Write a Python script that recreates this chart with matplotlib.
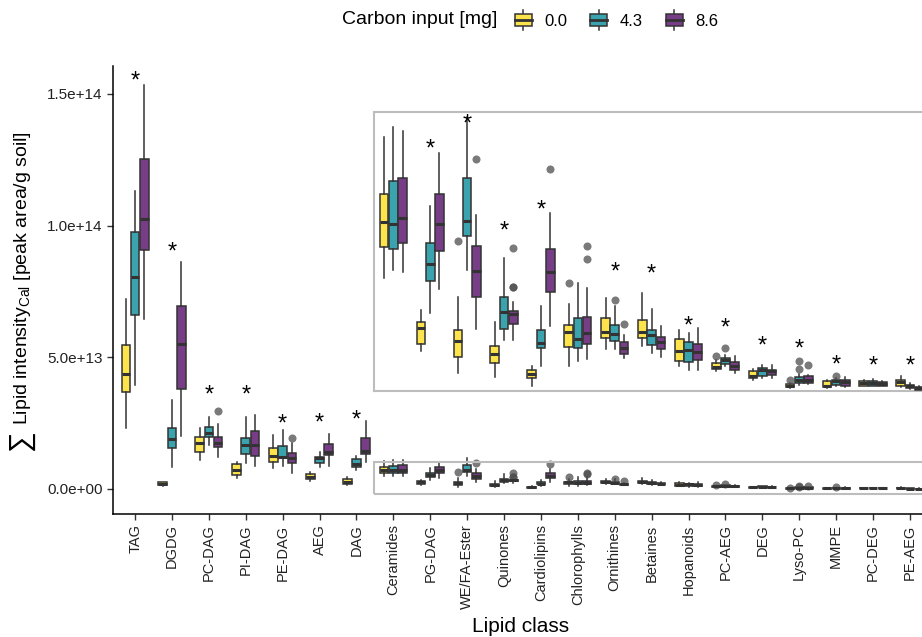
import matplotlib
matplotlib.use("Agg")
import matplotlib.pyplot as plt
from matplotlib.patches import Rectangle, Patch
from matplotlib.lines import Line2D
from matplotlib.legend_handler import HandlerBase

plt.rcParams['font.family'] = ['Liberation Sans', 'DejaVu Sans']
plt.rcParams['mathtext.fontset'] = 'custom'
plt.rcParams['mathtext.rm'] = 'Liberation Sans'
plt.rcParams['mathtext.it'] = 'Liberation Sans:italic'

SCALE = 1e13  # values below are in units of 1e13

classes = ["TAG", "DGDG", "PC-DAG", "PI-DAG", "PE-DAG", "AEG", "DAG", "Ceramides",
           "PG-DAG", "WE/FA-Ester", "Quinones", "Cardiolipins", "Chlorophylls",
           "Ornithines", "Betaines", "Hopanoids", "PC-AEG", "DEG", "Lyso-PC",
           "MMPE", "PC-DEG", "PE-AEG"]
groups = ["0.0", "4.3", "8.6"]
colors = ["#FDE44C", "#3AA3AE", "#773D86"]

# carbon 0.0
lo_0 = [2.31, 0.10, 1.10, 0.41, 0.79, 0.32, 0.15, 0.477, 0.169, 0.073, 0.058, 0.020, 0.103,
        0.178, 0.188, 0.103, 0.082, 0.047, 0.011, 0.011, 0.018, 0.016]
q1_0 = [3.67, 0.14, 1.42, 0.53, 1.02, 0.37, 0.19, 0.607, 0.197, 0.143, 0.116, 0.052, 0.186,
        0.224, 0.224, 0.127, 0.093, 0.054, 0.014, 0.016, 0.021, 0.021]
md_0 = [4.38, 0.19, 1.74, 0.72, 1.26, 0.46, 0.28, 0.716, 0.264, 0.211, 0.157, 0.069, 0.248,
        0.249, 0.248, 0.167, 0.099, 0.061, 0.021, 0.021, 0.033, 0.035]
q3_0 = [5.48, 0.25, 1.97, 0.95, 1.55, 0.56, 0.38, 0.833, 0.292, 0.258, 0.190, 0.086, 0.277,
        0.309, 0.301, 0.221, 0.118, 0.082, 0.028, 0.040, 0.040, 0.047]
hi_0 = [7.20, 0.28, 2.31, 1.04, 2.06, 0.66, 0.47, 1.074, 0.343, 0.398, 0.292, 0.105, 0.368,
        0.394, 0.412, 0.255, 0.132, 0.092, 0.033, 0.047, 0.047, 0.061]
# carbon 4.3
lo_1 = [3.96, 0.85, 1.68, 0.98, 0.88, 0.85, 0.72, 0.511, 0.327, 0.511, 0.215, 0.105, 0.127,
        0.178, 0.160, 0.089, 0.103, 0.054, 0.025, 0.021, 0.018, 0.008]
q1_1 = [6.59, 1.55, 1.97, 1.33, 1.17, 1.00, 0.85, 0.600, 0.466, 0.654, 0.263, 0.180, 0.181,
        0.209, 0.195, 0.122, 0.113, 0.064, 0.033, 0.025, 0.021, 0.011]
md_1 = [8.03, 1.89, 2.14, 1.68, 1.22, 1.19, 0.95, 0.706, 0.536, 0.717, 0.335, 0.204, 0.221,
        0.238, 0.235, 0.174, 0.129, 0.089, 0.047, 0.040, 0.033, 0.018]
q3_1 = [9.76, 2.33, 2.37, 1.93, 1.64, 1.23, 1.13, 0.886, 0.624, 0.900, 0.395, 0.258, 0.306,
        0.280, 0.259, 0.207, 0.139, 0.096, 0.058, 0.047, 0.042, 0.025]
hi_1 = [11.32, 3.36, 2.75, 2.73, 2.25, 1.42, 1.26, 1.116, 0.780, 1.159, 0.560, 0.357, 0.457,
        0.360, 0.347, 0.245, 0.150, 0.110, 0.072, 0.054, 0.050, 0.033]
# carbon 8.6
lo_2 = [6.46, 2.02, 1.23, 0.89, 0.62, 0.88, 1.04, 0.504, 0.430, 0.260, 0.215, 0.272, 0.135,
        0.139, 0.143, 0.089, 0.075, 0.056, 0.030, 0.016, 0.018, 0.003]
q1_2 = [9.07, 3.80, 1.59, 1.27, 0.98, 1.29, 1.32, 0.625, 0.590, 0.395, 0.284, 0.416, 0.198,
        0.157, 0.178, 0.132, 0.086, 0.065, 0.033, 0.018, 0.021, 0.004]
md_2 = [10.24, 5.52, 1.76, 1.68, 1.19, 1.42, 1.46, 0.730, 0.706, 0.508, 0.324, 0.501, 0.245,
        0.181, 0.207, 0.163, 0.103, 0.082, 0.047, 0.035, 0.030, 0.011]
q3_2 = [12.53, 6.94, 1.97, 2.22, 1.36, 1.71, 1.93, 0.900, 0.833, 0.614, 0.338, 0.600, 0.311,
        0.207, 0.228, 0.198, 0.120, 0.089, 0.061, 0.044, 0.035, 0.016]
hi_2 = [15.32, 8.62, 2.48, 2.79, 1.74, 2.08, 2.60, 1.098, 1.006, 0.744, 0.374, 0.753, 0.436,
        0.235, 0.276, 0.266, 0.146, 0.110, 0.068, 0.058, 0.040, 0.021]

# outliers: (class index, group index, value)
outliers = [(2, 2, 2.97), (4, 2, 1.95), (9, 0, 0.634), (9, 2, 0.979), (10, 2, 0.603),
            (10, 2, 0.440), (10, 2, 0.440), (11, 2, 0.937), (12, 0, 0.454), (12, 2, 0.611),
            (12, 2, 0.556), (13, 1, 0.383), (13, 2, 0.284), (16, 0, 0.149), (16, 1, 0.181),
            (18, 0, 0.047), (18, 1, 0.127), (18, 1, 0.092), (18, 2, 0.110), (19, 1, 0.064)]

# significance stars (height in 1e13), None = no star
stars = [15.73, 9.22, 3.81, 3.81, 2.70, 2.74, 2.86, None, 1.046, 1.152, 0.703, 0.791, None,
         0.528, 0.521, 0.301, 0.290, 0.214, 0.202, 0.135, 0.132, 0.132]

yticks = [0, 5e13, 1e14, 1.5e14]
ytick_labels = ["0.0e+00", "5.0e+13", "1.0e+14", "1.5e+14"]

N_MAIN = 7           # classes shown at full scale
ZOOM_X = (7.47, 22.6)
ZOOM_Y = (-0.20, 1.02)   # small rectangle in main axes
INSET_Y = (0.0, 1.18)    # y range shown inside inset
INSET_BOX = (3.73, 14.32)  # where the inset sits in main data coords

los = [lo_0, lo_1, lo_2]
q1s = [q1_0, q1_1, q1_2]
mds = [md_0, md_1, md_2]
q3s = [q3_0, q3_1, q3_2]
his = [hi_0, hi_1, hi_2]
offsets = [-0.25, 0.0, 0.25]

EDGE = "#333333"


def draw_boxes(ax, idx):
    for g in range(3):
        stats = []
        pos = []
        for i in idx:
            fl = [v * SCALE for (c, gg, v) in outliers if c == i and gg == g]
            stats.append(dict(med=mds[g][i] * SCALE, q1=q1s[g][i] * SCALE,
                              q3=q3s[g][i] * SCALE, whislo=los[g][i] * SCALE,
                              whishi=his[g][i] * SCALE, fliers=fl))
            pos.append(i + 1 + offsets[g])
        ax.bxp(stats, positions=pos, widths=0.235, patch_artist=True, showcaps=False,
               boxprops=dict(facecolor=colors[g], edgecolor=EDGE, linewidth=1.1),
               whiskerprops=dict(color=EDGE, linewidth=1.1),
               medianprops=dict(color=EDGE, linewidth=2.2, solid_capstyle='butt'),
               flierprops=dict(marker='o', markerfacecolor='#4d4d4d', markeredgecolor='none',
                               alpha=0.75, markersize=5.8),
               manage_ticks=False, zorder=3)


fig = plt.figure(figsize=(9.22, 6.37), dpi=100)
ax = fig.add_axes([113 / 922, 123 / 637, 819 / 922, 448 / 637])

draw_boxes(ax, range(len(classes)))
ax.set_xlim(0.4, 22.6)
ax.set_ylim(-0.95e13, 16.06e13)
ax.set_xticks(range(1, len(classes) + 1))
ax.set_xticklabels(classes, rotation=90, fontsize=10.5, color="#222222")
ax.set_yticks(yticks)
ax.set_yticklabels(ytick_labels, fontsize=11, color="#222222")
for s in ["top", "right"]:
    ax.spines[s].set_visible(False)
for s in ["left", "bottom"]:
    ax.spines[s].set_linewidth(1.1)
ax.tick_params(axis='both', length=4, width=1.0, color="#333333")

# zoom source rectangle
ax.add_patch(Rectangle((ZOOM_X[0], ZOOM_Y[0] * SCALE), ZOOM_X[1] - ZOOM_X[0],
                       (ZOOM_Y[1] - ZOOM_Y[0]) * SCALE, fill=False,
                       edgecolor="#bdbdbd", linewidth=1.5, zorder=4))

# inset with magnified view
ins = ax.inset_axes([ZOOM_X[0], INSET_BOX[0] * SCALE, ZOOM_X[1] - ZOOM_X[0],
                     (INSET_BOX[1] - INSET_BOX[0]) * SCALE], transform=ax.transData)
draw_boxes(ins, range(N_MAIN, len(classes)))
ins.set_xlim(*ZOOM_X)
ins.set_ylim(INSET_Y[0] * SCALE, INSET_Y[1] * SCALE)
ins.set_xticks([])
ins.set_yticks([])
for s in ins.spines.values():
    s.set_edgecolor("#bdbdbd")
    s.set_linewidth(1.5)

for i, sv in enumerate(stars):
    if sv is None:
        continue
    target = ax if i < N_MAIN else ins
    target.annotate("*", xy=(i + 1, sv * SCALE), xytext=(0, -9), textcoords='offset points',
                    ha='center', va='baseline', fontsize=17, color='black', zorder=5)

# axis titles
fig.text(521 / 922, 1 - 627 / 637, "Lipid class", ha='center', va='center', fontsize=15)
fig.text(23 / 922, 1 - 443 / 637, r"$\sum$", rotation=90, ha='center', va='center',
         fontsize=21)
fig.text(23 / 922, 1 - 425 / 637, r"Lipid intensity$_{\mathrm{Cal}}$ [peak area/g soil]",
         rotation=90, ha='center', va='bottom', fontsize=14)


class BoxKey(HandlerBase):
    def create_artists(self, legend, orig_handle, xdescent, ydescent, width, height,
                       fontsize, trans):
        cx = -xdescent + width / 2
        y0 = -ydescent
        w = width * 0.75
        a = []
        a.append(Line2D([cx, cx], [y0 - height * 0.05, y0 + height * 1.05], color=EDGE,
                        linewidth=1.1, transform=trans))
        a.append(Rectangle((cx - w / 2, y0 + height * 0.15), w, height * 0.7,
                           facecolor=orig_handle.get_facecolor(),
                           edgecolor=EDGE, linewidth=1.1, transform=trans))
        a.append(Line2D([cx - w / 2, cx + w / 2], [y0 + height / 2, y0 + height / 2],
                        color=EDGE, linewidth=2.0, transform=trans))
        return a


handles = [Patch(facecolor=c) for c in colors]
fig.text(497 / 922, 1 - 20 / 637, "Carbon input [mg]", ha='right', va='center', fontsize=14)
fig.legend(handles, groups, handler_map={Patch: BoxKey()}, loc='center left',
           bbox_to_anchor=(512 / 922, 1 - 20 / 637), ncol=3, frameon=False, fontsize=12,
           handlelength=1.35, handleheight=1.3, handletextpad=0.6, columnspacing=1.2,
           borderaxespad=0, borderpad=0)

fig.savefig("out.png", dpi=100)
